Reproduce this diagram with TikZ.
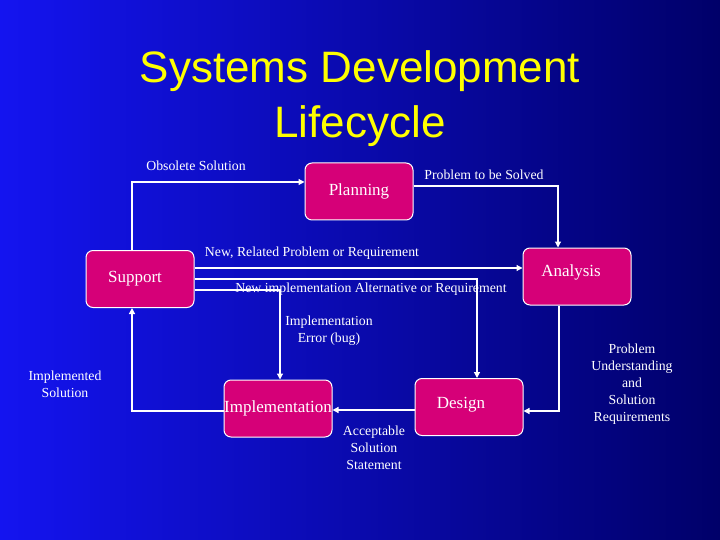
\documentclass[tikz,border=0pt]{standalone}
\usepackage{fontspec}
\setmainfont{Liberation Serif}
\newfontfamily\titlefont{Liberation Sans}
\usetikzlibrary{arrows.meta}
\definecolor{boxfill}{RGB}{214,0,120}
\definecolor{bgleft}{RGB}{20,20,240}
\definecolor{bgmid}{RGB}{10,10,215}
\definecolor{bgright}{RGB}{0,0,105}
\definecolor{titleyellow}{RGB}{255,255,0}
\tikzset{
  stagebox/.style={draw=white, line width=1pt, fill=boxfill, rounded corners=7pt,
    minimum width=108pt, minimum height=57pt, inner sep=0pt, text=white,
    font=\fontsize{17}{20}\selectfont},
  boxtext/.style={text=white, font=\fontsize{17}{20}\selectfont, inner sep=0pt},
  lbl/.style={text=white, font=\fontsize{13.8}{17}\selectfont, align=center, inner sep=0pt},
  conn/.style={draw=white, line width=1.2pt, -{Triangle[length=6pt,width=6pt]}},
  titletext/.style={font=\titlefont\fontsize{44}{55}\selectfont, align=center, inner sep=0pt}
}
\begin{document}
\begin{tikzpicture}[x=1pt,y=-1pt]
\useasboundingbox (0,0) rectangle (720,540);
\shade[left color=bgleft, middle color=bgmid, right color=bgright] (0,0) rectangle (720,540);

% title
\node[titletext, text=titleyellow] (title) at (360,99) {Systems Development\\Lifecycle};

% stages
\node[stagebox] (planning) at (359,191.5) {Planning};
\node[stagebox, label={[boxtext, xshift=-6pt, yshift=4pt]center:Analysis}] (analysis) at (577,276.5) {};
\node[stagebox, label={[boxtext, xshift=-5pt]center:Support}] (support) at (140,279) {};
\node[stagebox] (implementation) at (278,408.5) {Implementation};
\node[stagebox, label={[boxtext, xshift=-8pt, yshift=2pt]center:Design}] (design) at (469,407) {};

% routing coordinates
\coordinate (c1) at (132,182);
\coordinate (c2) at (558,186);
\coordinate (c3) at (0,268);
\coordinate (c4) at (477,279);
\coordinate (c5) at (280,290);
\coordinate (c6) at (559,411);
\coordinate (c7) at (0,410);
\coordinate (c8) at (132,411);

% connectors
\draw[conn] (support.north -| c1) |- (planning.west |- c1);
\draw[conn] (planning.east |- c2) -| (analysis.north -| c2);
\draw[conn] (support.east |- c3) -- (analysis.west |- c3);
\draw[conn] (support.east |- c4) -| (design.north -| c4);
\draw[conn] (support.east |- c5) -| (implementation.north -| c5);
\draw[conn] (analysis.south -| c6) |- (design.east |- c6);
\draw[conn] (design.west |- c7) -- (implementation.east |- c7);
\draw[conn] (implementation.west |- c8) -| (support.south -| c8);

% labels
\node[lbl] (lobs) at (196,166) {Obsolete Solution};
\node[lbl] (lprob) at (484,175) {Problem to be Solved};
\node[lbl] (lnew) at (312,253) {New, Related Problem or Requirement};
\node[lbl] (lalt) at (371,289) {New implementation Alternative or Requirement};
\node[lbl] (lerr) at (329,331) {Implementation\\Error (bug)};
\node[lbl] (lund) at (632,384) {Problem\\Understanding\\and\\Solution\\Requirements};
\node[lbl] (lacc) at (374,448) {Acceptable\\Solution\\Statement};
\node[lbl] (limp) at (65,384.5) {Implemented\\Solution};
\end{tikzpicture}
\end{document}
